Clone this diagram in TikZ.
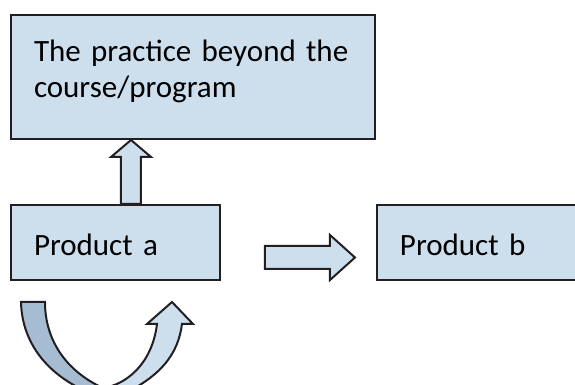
\documentclass[tikz,border=0pt]{standalone}
\usepackage{fontspec}
\setmainfont{Carlito}
\usetikzlibrary{positioning, calc}
\definecolor{colorPro}{RGB}{205, 222, 236}
\definecolor{colorBack}{RGB}{166, 188, 211}
\definecolor{colorLine}{RGB}{35, 31, 32}
\tikzstyle{process} = [rectangle, align=left, draw=colorLine, line width=1pt, fill=colorPro, inner xsep=11.5pt]
\tikzstyle{blockarrow} = [draw=colorLine, line width=1pt, fill=colorPro, line join=miter]
\tikzstyle{backarrow} = [draw=colorLine, line width=1pt, fill=colorBack, line join=miter]

\begin{document}
\begin{tikzpicture}[x=0.5pt, y=-0.5pt, font=\fontsize{15.5}{18}\selectfont]

		\useasboundingbox (0,0) rectangle (575,385);

		% boxes
		\node (pPractice)[process, anchor=north west, minimum width=182pt, minimum height=62pt, text width=159pt, text height=15pt, text depth=30pt] at (10,14) {\mbox{The practice beyond the} \\ course/program};
		\node (pProductA)[process, below right=32pt and 0pt of pPractice.south west, minimum width=104.5pt, minimum height=37.5pt, text width=81.5pt, text height=13.5pt, text depth=0pt] {Product a};
		\node (pProductB)[process, right=77.5pt of pProductA, minimum width=100pt, minimum height=37.5pt, text width=77pt, text height=13.5pt, text depth=0pt] {Product b};

		% 箭头用
		\coordinate (upFoot) at ([xshift=7.75pt]pProductA.north);
		\coordinate (upTip) at (upFoot |- pPractice.south);
		\coordinate (rStart) at ([xshift=22pt, yshift=-7.5pt]pProductA.east);
		\coordinate (rTip) at ([xshift=-10.5pt, yshift=-7.5pt]pProductB.west);

		% block arrows
		\draw[blockarrow] ([xshift=-5pt]upFoot) -- ([xshift=-5pt, yshift=-8.5pt]upTip) -- ([xshift=-10pt, yshift=-8.5pt]upTip) -- (upTip) -- ([xshift=10pt, yshift=-8.5pt]upTip) -- ([xshift=5pt, yshift=-8.5pt]upTip) -- ([xshift=5pt]upFoot) -- cycle;
		\draw[blockarrow] ([yshift=5.75pt]rStart) -- ([xshift=-12.5pt, yshift=5.75pt]rTip) -- ([xshift=-12.5pt, yshift=11.25pt]rTip) -- (rTip) -- ([xshift=-12.5pt, yshift=-11.25pt]rTip) -- ([xshift=-12.5pt, yshift=-5.75pt]rTip) -- ([yshift=-5.75pt]rStart) -- cycle;

		% curved arrow
		\draw[backarrow] (21,302) -- (45,302) .. controls (45,342) and (68,372) .. (103,388) -- (95,395) .. controls (50,378) and (22,345) .. (21,302) -- cycle;
		\draw[blockarrow] (103,388) .. controls (125,385) and (152,365) .. (157,324) -- (147,324) -- (172,302) -- (193,324) -- (182,324) .. controls (178,355) and (160,378) .. (115,398) -- cycle;

	\end{tikzpicture}
\end{document}
